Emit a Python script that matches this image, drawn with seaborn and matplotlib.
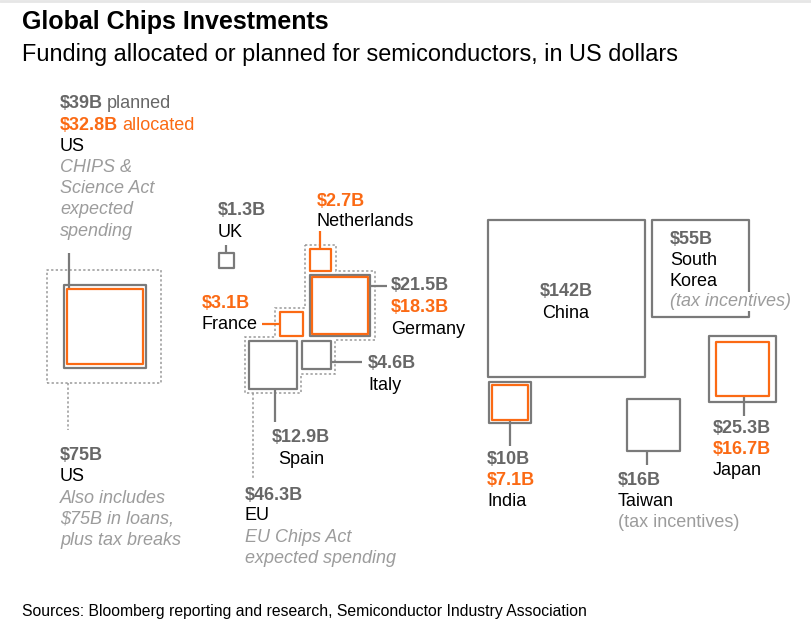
import numpy as np
import pandas as pd
import seaborn as sns
import matplotlib.pyplot as plt
from matplotlib.patches import Polygon

# 1. data (billions of US dollars)
countries = ['US', 'UK', 'Netherlands', 'France', 'Germany', 'Italy', 'Spain',
             'China', 'South Korea', 'India', 'Taiwan', 'Japan']
planned = [39, 1.3, None, None, 21.5, 4.6, 12.9, 142, 55, 10, 16, 25.3]
allocated = [32.8, None, 2.7, 3.1, 18.3, None, None, None, None, 7.1, None, 16.7]
us_with_loans = 75
eu_total = 46.3

# 2. layout: square centres on the 812x638 pixel canvas
center_x = [105, 226.5, 320.5, 291.5, 340, 316.5, 273, 566.5, 700.5, 510, 653.5, 742.5]
center_y = [326.5, 260.5, 260, 324, 305.5, 355, 365, 298.5, 268.5, 402.5, 425, 369]
us_dash_center = (104, 326.5)

GRAY = '#7a7a7a'
VAL_GRAY = '#676767'
NOTE_GRAY = '#9c9c9c'
DASH_GRAY = '#999999'
ORANGE = '#fb6a14'

DPI = 100
PX = 13.15            # pixels per sqrt($B) -> square area ~ value
VMAX = 150
SMAX = (PX * 72 / DPI) ** 2 * VMAX   # scatter size (pt^2) at VMAX

df = pd.DataFrame({'country': countries, 'planned': planned, 'allocated': allocated,
                   'cx': center_x, 'cy': center_y})

sns.set_theme(style='white')
plt.rcParams['font.family'] = ['Liberation Sans', 'DejaVu Sans']

fig = plt.figure(figsize=(8.12, 6.38), dpi=DPI)
ax = fig.add_axes([0, 0, 1, 1])


def squares(data, col, color, lw=1.6, ls='-', z=3):
    sns.scatterplot(data=data, x='cx', y='cy', size=col, sizes=(0, SMAX),
                    size_norm=(0, VMAX), marker='s', legend=False, ax=ax,
                    edgecolor=color, facecolor='none', linewidth=lw,
                    linestyle=ls, zorder=z)
    ax.collections[-1].set_facecolor('none')


def side(v):
    return PX * np.sqrt(v)


def box(country, col, pad=0):
    r = df[df.country == country].iloc[0]
    h = side(r[col]) / 2 + pad
    return (r.cx - h, r.cy - h, r.cx + h, r.cy + h)


# squares
squares(df.dropna(subset=['planned']), 'planned', GRAY)
squares(df.dropna(subset=['allocated']), 'allocated', ORANGE, z=4)
us_dash = pd.DataFrame({'cx': [us_dash_center[0]], 'cy': [us_dash_center[1]],
                        'total': [us_with_loans]})
squares(us_dash, 'total', DASH_GRAY, lw=1.1, ls=(0, (1.5, 1.5)), z=2)

# EU dashed envelope built from the member squares
p = 4.5
nl = box('Netherlands', 'allocated', p)
ge = box('Germany', 'planned', p)
fr = box('France', 'allocated', p)
it = box('Italy', 'planned', p)
sp = box('Spain', 'planned', p)
verts = [(nl[0], nl[1]), (nl[2], nl[1]), (nl[2], ge[1]), (ge[2], ge[1]),
         (ge[2], ge[3]), (it[2], ge[3]), (it[2], it[3]), (sp[2], it[3]),
         (sp[2], sp[3]), (sp[0], sp[3]), (sp[0], sp[1]), (fr[0], sp[1]),
         (fr[0], fr[1]), (nl[0], fr[1])]
ax.add_patch(Polygon(verts, closed=True, fill=False, ec=DASH_GRAY, lw=1.1,
                     ls=(0, (1.5, 1.5)), zorder=2))

# connector lines
def seg(x0, y0, x1, y1, color=GRAY, ls='-', lw=1.6):
    ax.plot([x0, x1], [y0, y1], color=color, lw=lw, ls=ls, zorder=3,
            solid_capstyle='butt')

b = box('US', 'allocated'); seg(b[0] + 2, 253, b[0] + 2, b[1])
b = box('UK', 'planned'); seg((b[0] + b[2]) / 2, b[1] - 8, (b[0] + b[2]) / 2, b[1])
b = box('Netherlands', 'allocated'); seg((b[0] + b[2]) / 2, b[1] - 18, (b[0] + b[2]) / 2, b[1], ORANGE)
b = box('Germany', 'planned'); seg(b[2], b[1] + 11, b[2] + 17, b[1] + 11)
b = box('France', 'allocated'); seg(b[0] - 18, (b[1] + b[3]) / 2, b[0], (b[1] + b[3]) / 2, ORANGE)
b = box('Italy', 'planned'); seg(b[2], b[1] + 21, b[2] + 31, b[1] + 21)
b = box('Spain', 'planned'); seg(b[0] + 26, b[3], b[0] + 26, 422)
b = box('India', 'allocated'); seg((b[0] + b[2]) / 2, b[3], (b[0] + b[2]) / 2, 446)
b = box('Taiwan', 'planned'); seg(b[0] + 20, b[3], b[0] + 20, 465)
b = box('Japan', 'allocated'); seg((b[0] + b[2]) / 2 + 1.5, b[3], (b[0] + b[2]) / 2 + 1.5, 416)
hu = side(us_with_loans) / 2
seg(us_dash_center[0] - hu + 21, us_dash_center[1] + hu, us_dash_center[0] - hu + 21, 430,
    DASH_GRAY, (0, (1.5, 1.5)), 1.1)
seg(sp[0] + 8, sp[3], sp[0] + 8, 478, DASH_GRAY, (0, (1.5, 1.5)), 1.1)

# text
FS = 13
DY = 1.5   # nudge: matplotlib centres on the full text box, not on cap height


def txt(x, y, s, color='black', weight='normal', style='normal', ha='left', fs=FS, **kw):
    return ax.text(x, y + DY, s, color=color, fontweight=weight, fontstyle=style,
                   ha=ha, va='center', fontsize=fs, parse_math=False, zorder=6, **kw)


def pair(x, y, bold, rest, color):
    t = txt(x, y, bold, color, 'bold')
    ax.annotate(rest, xy=(1, 0.5), xycoords=t, xytext=(3, 0), textcoords='offset points',
                va='center', ha='left', color=color, fontsize=FS, parse_math=False)


def fmt(v):
    return f'${v:g}B'


def value(country, col):
    return df.loc[df.country == country, col].iloc[0]


# US
pair(60, 102.5, fmt(value('US', 'planned')), 'planned', VAL_GRAY)
pair(60, 123.5, fmt(value('US', 'allocated')), 'allocated', ORANGE)
txt(60, 145, 'US')
for i, s in enumerate(['CHIPS &', 'Science Act', 'expected', 'spending']):
    txt(60, 166 + 21.2 * i, s, NOTE_GRAY, style='italic')
txt(60, 453.5, fmt(us_with_loans), VAL_GRAY, 'bold')
txt(60, 475, 'US')
for i, s in enumerate(['Also includes', '$75B in loans,', 'plus tax breaks']):
    txt(60, 497 + 21 * i, s, NOTE_GRAY, style='italic')

# Europe
txt(218, 209, fmt(value('UK', 'planned')), VAL_GRAY, 'bold')
txt(218, 231, 'UK')
txt(317, 199.5, fmt(value('Netherlands', 'allocated')), ORANGE, 'bold')
txt(317, 220, 'Netherlands')
txt(391, 284.5, fmt(value('Germany', 'planned')), VAL_GRAY, 'bold')
txt(391, 306.5, fmt(value('Germany', 'allocated')), ORANGE, 'bold')
txt(391, 328, 'Germany')
txt(202, 301.5, fmt(value('France', 'allocated')), ORANGE, 'bold')
txt(202, 323, 'France')
txt(368, 362.5, fmt(value('Italy', 'planned')), VAL_GRAY, 'bold')
txt(368, 383.5, 'Italy')
txt(301, 436.5, fmt(value('Spain', 'planned')), VAL_GRAY, 'bold', ha='center')
txt(301, 458, 'Spain', ha='center')
txt(245, 493.5, fmt(eu_total), VAL_GRAY, 'bold')
txt(245, 514.5, 'EU')
txt(245, 536, 'EU Chips Act', NOTE_GRAY, style='italic')
txt(245, 557, 'expected spending', NOTE_GRAY, style='italic')

# Asia
txt(566, 290, fmt(value('China', 'planned')), VAL_GRAY, 'bold', ha='center')
txt(566, 311.5, 'China', ha='center')
txt(670, 238, fmt(value('South Korea', 'planned')), VAL_GRAY, 'bold')
txt(670, 259, 'South')
txt(670, 279.5, 'Korea')
txt(670, 300, '(tax incentives)', NOTE_GRAY, style='italic',
    bbox=dict(fc='white', ec='none', pad=1))
txt(487, 458, fmt(value('India', 'planned')), VAL_GRAY, 'bold')
txt(487, 479, fmt(value('India', 'allocated')), ORANGE, 'bold')
txt(487, 500, 'India')
txt(618, 479, fmt(value('Taiwan', 'planned')), VAL_GRAY, 'bold')
txt(618, 500, 'Taiwan')
txt(618, 521, '(tax incentives)', NOTE_GRAY)
txt(713, 427, fmt(value('Japan', 'planned')), VAL_GRAY, 'bold')
txt(713, 448, fmt(value('Japan', 'allocated')), ORANGE, 'bold')
txt(713, 469, 'Japan')

# titles and source
txt(22, 20, 'Global Chips Investments', weight='bold', fs=18)
txt(22, 52.5, 'Funding allocated or planned for semiconductors, in US dollars', fs=16.9)
txt(22, 610, 'Sources: Bloomberg reporting and research, Semiconductor Industry Association', fs=11.35)
ax.plot([0, 812], [1, 1], color='#e6e6e6', lw=2)

ax.set_xlim(0, 812)
ax.set_ylim(638, 0)
ax.axis('off')

fig.savefig('out.png', dpi=DPI, facecolor='white')
